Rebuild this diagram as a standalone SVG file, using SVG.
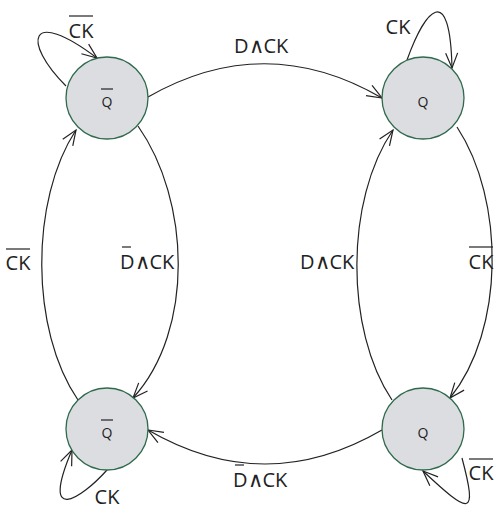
<svg xmlns="http://www.w3.org/2000/svg" width="497" height="510" viewBox="0 0 497 510">
  <defs>
    <style>
      .state { fill: #dcdde0; stroke: #2f6a4c; stroke-width: 1.3; }
      .edge { fill: none; stroke: #222; stroke-width: 1.2; }
      .lbl { font-family: "Open Sans", "Noto Sans", sans-serif; font-size: 20px; fill: #222; text-anchor: middle; }
      .expr { text-anchor: start; }
      .and { font-family: "DejaVu Sans ExtraLight", "DejaVu Sans", sans-serif; font-size: 21px; font-weight: 200; }
      .slbl { font-family: "Open Sans", "Noto Sans", sans-serif; font-size: 14px; fill: #222; text-anchor: middle; }
      .bar { stroke: #222; stroke-width: 1.2; }
    </style>
    <marker id="arr" markerUnits="userSpaceOnUse" markerWidth="20" markerHeight="20" refX="0" refY="0" viewBox="-16 -10 20 20" orient="auto">
      <path d="M-15,-6 L0,0 L-15,6" fill="none" stroke="#222" stroke-width="1.2"/>
    </marker>
  </defs>

  <!-- transitions -->
  <g id="connectors">
    <!-- Q-bar (top) to Q (top) -->
    <path class="edge" d="M148,97 Q265,30 382,98" marker-end="url(#arr)"/>
    <!-- Q (bottom) to Q-bar (bottom) -->
    <path class="edge" d="M382,430 Q265,498 148,430" marker-end="url(#arr)"/>
    <!-- Q-bar (top) down to Q-bar (bottom) -->
    <path class="edge" d="M138,126 C190,200 195,330 133,398" marker-end="url(#arr)"/>
    <!-- Q-bar (bottom) up to Q-bar (top) -->
    <path class="edge" d="M78,400 C30,330 30,200 76,130" marker-end="url(#arr)"/>
    <!-- Q (top) down to Q (bottom) -->
    <path class="edge" d="M457,127 C505,200 505,330 450,398" marker-end="url(#arr)"/>
    <!-- Q (bottom) up to Q (top) -->
    <path class="edge" d="M392,400 C345,330 345,200 393,130" marker-end="url(#arr)"/>
    <!-- self loops -->
    <path class="edge" d="M66,86 C22,42 28,6 97,58" marker-end="url(#arr)"/>
    <path class="edge" d="M407,60 C425,10 450,-20 452,68" marker-end="url(#arr)"/>
    <path class="edge" d="M107,470 C80,500 40,525 72,450" marker-end="url(#arr)"/>
    <path class="edge" d="M462,458 C478,518 470,515 423,471" marker-end="url(#arr)"/>
  </g>

  <!-- states -->
  <g id="state-qbar-top">
    <circle class="state" cx="107" cy="98" r="41"/>
    <text class="slbl" x="107" y="107">Q</text>
    <line class="bar" x1="101" y1="89" x2="113" y2="89"/>
  </g>
  <g id="state-q-top">
    <circle class="state" cx="423" cy="98" r="41"/>
    <text class="slbl" x="423" y="107">Q</text>
  </g>
  <g id="state-qbar-bottom">
    <circle class="state" cx="107" cy="429" r="41"/>
    <text class="slbl" x="107" y="438">Q</text>
    <line class="bar" x1="101" y1="420" x2="113" y2="420"/>
  </g>
  <g id="state-q-bottom">
    <circle class="state" cx="423" cy="429" r="41"/>
    <text class="slbl" x="423" y="438">Q</text>
  </g>

  <!-- transition labels -->
  <g id="labels">
    <text class="lbl" x="81" y="38">CK</text>
    <line class="bar" x1="69" y1="16" x2="93" y2="16"/>
    <text class="lbl" x="398" y="34">CK</text>
    <text class="lbl expr" x="234" y="53">D<tspan class="and">∧</tspan>CK</text>
    <text class="lbl" x="18" y="270">CK</text>
    <line class="bar" x1="6" y1="249" x2="30" y2="249"/>
    <text class="lbl expr" x="120" y="269">D<tspan class="and">∧</tspan>CK</text>
    <line class="bar" x1="122" y1="247" x2="131" y2="247"/>
    <text class="lbl expr" x="300" y="269">D<tspan class="and">∧</tspan>CK</text>
    <text class="lbl" x="481" y="269">CK</text>
    <line class="bar" x1="469" y1="247" x2="493" y2="247"/>
    <text class="lbl expr" x="233" y="487">D<tspan class="and">∧</tspan>CK</text>
    <line class="bar" x1="235" y1="465" x2="244" y2="465"/>
    <text class="lbl" x="107" y="504">CK</text>
    <text class="lbl" x="481" y="480">CK</text>
    <line class="bar" x1="469" y1="459" x2="493" y2="459"/>
  </g>
</svg>
